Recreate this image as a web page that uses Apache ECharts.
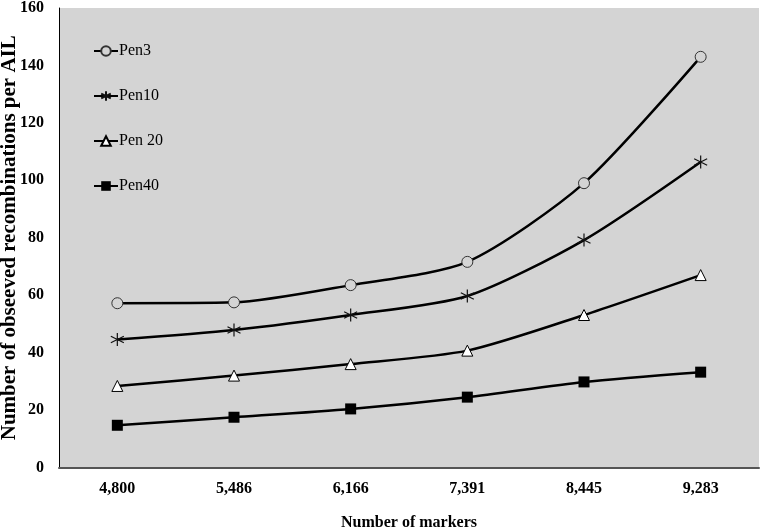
<!DOCTYPE html>
<html>
<head>
<meta charset="utf-8">
<script src="https://cdn.jsdelivr.net/npm/echarts@6/dist/echarts.min.js"></script>
<style>html,body{margin:0;padding:0;background:#fff;}#c{width:762px;height:529px;}</style>
</head>
<body>
<div id="c"></div>
<script>
var categories = ['4,800', '5,486', '6,166', '7,391', '8,445', '9,283'];
var pen3 = [57.2, 57.5, 63.5, 71.6, 99.0, 143.0];
var pen10 = [44.6, 47.9, 53.1, 59.7, 79.2, 106.4];
var pen20 = [28.4, 32.0, 36.0, 40.7, 53.1, 67.0];
var pen40 = [14.7, 17.5, 20.4, 24.5, 29.8, 33.2];
var seriesNames = ['Pen3', 'Pen10', 'Pen 20', 'Pen40'];
var yTicks = { min: 0, max: 160, interval: 20 };

var FONT = 'Liberation Serif';
var BG = '#d4d4d4';
var starPath = 'path://M5,0L5,10M0.7,2.5L9.3,7.5M9.3,2.5L0.7,7.5';

function mk(name, data, symbol, size, fill, border, bw) {
  return {
    name: name, type: 'line', data: data, smooth: 0.25,
    symbol: symbol, symbolSize: size, showAllSymbol: true,
    lineStyle: { color: '#000', width: 2.5 },
    itemStyle: { color: fill, borderColor: border, borderWidth: bw },
    emphasis: { disabled: true }
  };
}

var chart = echarts.init(document.getElementById('c'), null, { renderer: 'canvas' });
chart.setOption({
  animation: false,
  backgroundColor: '#fff',
  grid: { left: 59, right: 3, top: 8, bottom: 61.5, show: true, backgroundColor: BG, borderWidth: 0,
          containLabel: false, outerBoundsMode: 'none' },
  legend: {
    orient: 'vertical', left: 88, top: 38, itemWidth: 24, itemHeight: 12, itemGap: 29,
    textStyle: { fontFamily: FONT, fontSize: 16, color: '#000', padding: [0, 0, 0, -4] },
    data: seriesNames
  },
  xAxis: {
    type: 'category', data: categories, boundaryGap: true,
    axisLine: { lineStyle: { color: '#555', width: 2 } },
    axisTick: { show: false },
    axisLabel: { fontFamily: FONT, fontSize: 16, fontWeight: 'bold', color: '#000', margin: 13 },
    name: 'Number of markers', nameLocation: 'middle', nameGap: 47, nameMoveOverlap: false,
    nameTextStyle: { fontFamily: FONT, fontSize: 16, fontWeight: 'bold', color: '#000' }
  },
  yAxis: {
    type: 'value', min: yTicks.min, max: yTicks.max, interval: yTicks.interval,
    axisLine: { show: true, lineStyle: { color: '#000', width: 1 } },
    axisTick: { show: false },
    splitLine: { show: false },
    axisLabel: { fontFamily: FONT, fontSize: 16, fontWeight: 'bold', color: '#000', margin: 15 },
    name: 'Number of obseeved recombinations per AIL', nameLocation: 'middle', nameGap: 39, nameMoveOverlap: false,
    nameTextStyle: { fontFamily: FONT, fontSize: 21, fontWeight: 'bold', color: '#000' }
  },
  series: [
    mk(seriesNames[0], pen3, 'circle', 11, BG, '#333', 1),
    mk(seriesNames[1], pen10, starPath, 13, 'none', '#111', 1.2),
    mk(seriesNames[2], pen20, 'triangle', 11, '#fff', '#000', 1),
    mk(seriesNames[3], pen40, 'rect', 11, '#000', '#000', 0)
  ]
});
</script>
</body>
</html>
